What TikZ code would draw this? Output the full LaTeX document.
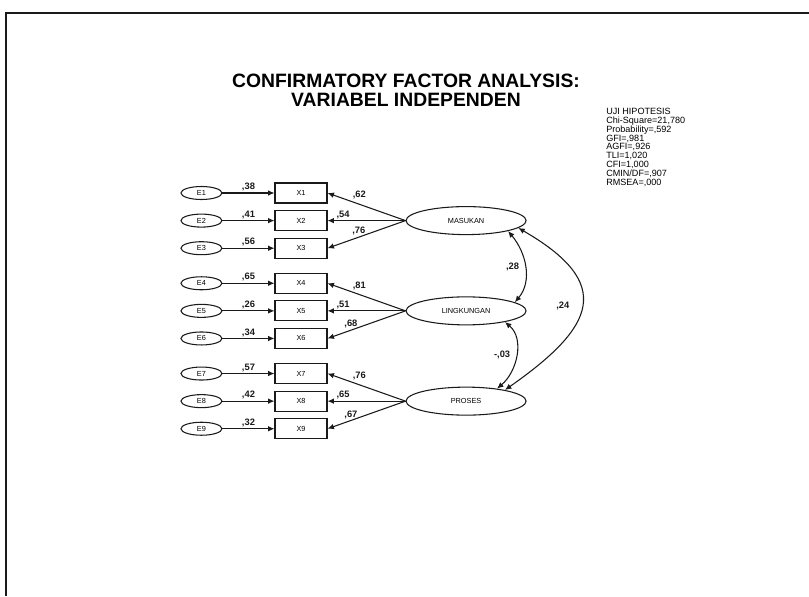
\documentclass[tikz,border=0pt]{standalone}
\usepackage{fontspec}
\setmainfont{Liberation Sans}
\usepackage{tikz}
\usetikzlibrary{positioning, arrows.meta, shapes.geometric}
\definecolor{Ink}{HTML}{1A1A1A}

\begin{document}
\begin{tikzpicture}[
    x=0.75pt, y=0.75pt,
    indicator/.style={draw=Ink, line width=0.8pt, minimum width=39pt, minimum height=15pt, inner sep=0pt, font=\fontsize{5.5}{6}\selectfont},
    error/.style={draw=Ink, line width=0.8pt, ellipse, minimum width=30.75pt, minimum height=9.75pt, inner sep=0pt, font=\fontsize{5.5}{6}\selectfont},
    factor/.style={draw=Ink, line width=0.8pt, ellipse, minimum width=90pt, minimum height=21pt, inner sep=0pt, font=\fontsize{5.5}{6}\selectfont},
    coef/.style={font=\fontsize{7}{8}\selectfont\bfseries, inner sep=1pt},
    arr/.style={-{Latex[length=1.7mm, width=1.5mm]}, color=Ink, line width=0.8pt},
    cov/.style={{Latex[length=1.7mm, width=1.5mm]}-{Latex[length=1.7mm, width=1.5mm]}, color=Ink, line width=0.8pt}
]
\useasboundingbox (0,0) rectangle (809,-596);

% Frame
\draw[line width=1.5pt, color=Ink] (5,-13) -- (809,-13);
\draw[line width=1.5pt, color=Ink] (6,-13) -- (6,-596);

% Title
\node[font=\fontsize{14.5}{14}\selectfont\bfseries, align=center] (title) at (406,-90) {CONFIRMATORY FACTOR ANALYSIS:\\VARIABEL INDEPENDEN};

% Fit statistics
\node[anchor=north west, align=left, inner sep=0pt, font=\fontsize{6.8}{6.6}\selectfont] (fit) at (606,-108) {UJI HIPOTESIS\\Chi-Square=21,780\\Probability=,592\\GFI=,981\\AGFI=,926\\TLI=1,020\\CFI=1,000\\CMIN/DF=,907\\RMSEA=,000};

% Indicators
\node[indicator] (x1) at (301,-193) {X1};
\node[indicator, below=4.9pt of x1] (x2) {X2};
\node[indicator, below=4.9pt of x2] (x3) {X3};
\node[indicator, below=10.5pt of x3] (x4) {X4};
\node[indicator, below=4.9pt of x4] (x5) {X5};
\node[indicator, below=4.9pt of x5] (x6) {X6};
\node[indicator, below=10.5pt of x6] (x7) {X7};
\node[indicator, below=4.9pt of x7] (x8) {X8};
\node[indicator, below=4.9pt of x8] (x9) {X9};

% Error terms
\node[error, left=39pt of x1] (e1) {E1};
\node[error, left=39pt of x2] (e2) {E2};
\node[error, left=39pt of x3] (e3) {E3};
\node[error, left=39pt of x4] (e4) {E4};
\node[error, left=39pt of x5] (e5) {E5};
\node[error, left=39pt of x6] (e6) {E6};
\node[error, left=39pt of x7] (e7) {E7};
\node[error, left=39pt of x8] (e8) {E8};
\node[error, left=39pt of x9] (e9) {E9};

% Latent factors
\node[factor, right=58.5pt of x2] (f1) {MASUKAN};
\node[factor, right=58.5pt of x5] (f2) {LINGKUNGAN};
\node[factor, right=58.5pt of x8] (f3) {PROSES};

% Error paths
\draw[arr] (e1) -- node[coef, above] {,38} (x1);
\draw[arr] (e2) -- node[coef, above] {,41} (x2);
\draw[arr] (e3) -- node[coef, above] {,56} (x3);
\draw[arr] (e4) -- node[coef, above] {,65} (x4);
\draw[arr] (e5) -- node[coef, above] {,26} (x5);
\draw[arr] (e6) -- node[coef, above] {,34} (x6);
\draw[arr] (e7) -- node[coef, above] {,57} (x7);
\draw[arr] (e8) -- node[coef, above] {,42} (x8);
\draw[arr] (e9) -- node[coef, above] {,32} (x9);

% Loadings
\draw[arr] (f1.west) -- node[coef, pos=0.7, above right] {,62} (x1.east);
\draw[arr] (f1.west) -- node[coef, pos=0.8, above] {,54} (x2.east);
\draw[arr] (f1.west) -- node[coef, pos=0.6, above] {,76} (x3.east);
\draw[arr] (f2.west) -- node[coef, pos=0.7, above right] {,81} (x4.east);
\draw[arr] (f2.west) -- node[coef, pos=0.8, above] {,51} (x5.east);
\draw[arr] (f2.west) -- node[coef, pos=0.7, above] {,68} (x6.east);
\draw[arr] (f3.west) -- node[coef, pos=0.7, above right] {,76} (x7.east);
\draw[arr] (f3.west) -- node[coef, pos=0.8, above] {,65} (x8.east);
\draw[arr] (f3.west) -- node[coef, pos=0.7, above] {,67} (x9.east);

% Correlations
\draw[cov] (f1.-14) to[out=-50, in=50] node[coef, left=3pt] {,28} (f2.10);
\draw[cov] (f2.-16) to[out=-40, in=40] node[coef, left=3pt] {-,03} (f3.22);
\draw[cov] (f1.-8) to[out=-30, in=35, looseness=1.75] node[coef, left=8pt] {,24} (f3.16);

\end{tikzpicture}
\end{document}
